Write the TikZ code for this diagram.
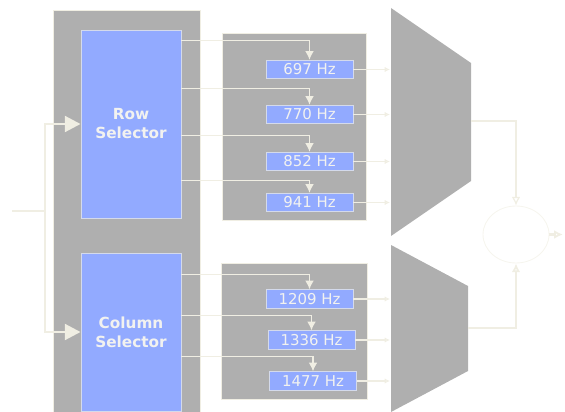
\documentclass[tikz,border=0pt]{standalone}
\usepackage{fontspec}
\setmainfont{DejaVu Sans}
\usetikzlibrary{positioning,arrows.meta,calc,shapes.geometric}
\definecolor{cPanel}{HTML}{AFAFAF}
\definecolor{cBlue}{HTML}{92AAFF}
\definecolor{cWire}{HTML}{F0EEE3}
\definecolor{cFaint}{HTML}{F6F5EE}
\definecolor{cText}{HTML}{F2F2F0}
\tikzset{
  panel/.style={draw=cWire,fill=cPanel,line width=0.5pt,inner sep=0pt},
  selbox/.style={draw=cWire!70!cBlue,fill=cBlue,line width=0.5pt,inner sep=0pt,minimum width=2cm,
                 text width=2cm,align=center,text=cText,font=\fontsize{8.7}{10.8}\selectfont\bfseries},
  hzbox/.style={draw=cWire!70!cBlue,fill=cBlue,line width=0.5pt,inner sep=0pt,minimum width=1.74cm,
                minimum height=0.37cm,text=cText,font=\fontsize{8.5}{10}\selectfont},
  wire/.style={draw=cWire,line width=0.7pt},
  feed/.style={wire,-{Latex[length=5pt,width=5pt,fill=cWire]}},
  bus/.style={draw=cWire,line width=1.6pt},
  muxin/.style={wire,line width=1pt,-{Latex[open,length=3pt,width=3pt]}}
}
\begin{document}
\begin{tikzpicture}[x=0.02cm,y=-0.02cm]
    \useasboundingbox (0,0) rectangle (565,412);
    % grey backing panels
    \node[panel,minimum width=2.94cm,minimum height=8.04cm] (selpanel) at (126.5,211) {};
    \node[panel,minimum width=2.88cm,minimum height=3.74cm] (rowpanel) at (294,126.5) {};
    \node[panel,minimum width=2.92cm,minimum height=2.72cm] (colpanel) at (294,331) {};
    % selectors
    \node[selbox,minimum height=3.76cm] (rowsel) at (131,124) {Row\\Selector};
    \node[selbox,minimum height=3.16cm] (colsel) at (131,332) {Column\\Selector};
    % tone boxes
    \node[hzbox] (f697) at (309.5,69.5) {697 Hz};
    \node[hzbox] (f770) at (309.5,114.5) {770 Hz};
    \node[hzbox] (f852) at (309.5,161.5) {852 Hz};
    \node[hzbox] (f941) at (309.5,202.5) {941 Hz};
    \node[hzbox] (f1209) at (309.5,299) {1209 Hz};
    \node[hzbox] (f1336) at (311.5,340) {1336 Hz};
    \node[hzbox] (f1477) at (313,381) {1477 Hz};
    % adders
    \fill[cPanel] (391,8) -- (471,63) -- (471,181) -- (391,236) -- cycle;
    \fill[cPanel] (391,245) -- (468,286) -- (468,371) -- (391,412) -- cycle;
    \node[draw=cFaint,ellipse,line width=0.5pt,minimum width=1.32cm,minimum height=1.14cm,inner sep=0pt] (sum) at (516,234.5) {};
    \coordinate (inp) at (12,211);
    \coordinate (fork) at (45,211);
    \coordinate (rowout) at (471,121);
    \coordinate (colout) at (468,328);
    \coordinate (sumout) at (563,234.5);
    % input bus
    \draw[bus] (inp) -- (fork);
    \draw[bus,-{Triangle[length=9pt,width=9pt,fill=cWire]}] (fork) |- (rowsel.west);
    \draw[bus,-{Triangle[length=9pt,width=9pt,fill=cWire]}] (fork) |- (colsel.west);
    % selector lines
    \draw[feed] ([yshift=-0.22cm]rowsel.north east) -| (f697.north);
    \draw[feed] ([yshift=-1.18cm]rowsel.north east) -| (f770.north);
    \draw[feed] ([yshift=-2.12cm]rowsel.north east) -| (f852.north);
    \draw[feed] ([yshift=-3.02cm]rowsel.north east) -| (f941.north);
    \draw[feed] ([yshift=-0.44cm]colsel.north east) -| (f1209.north);
    \draw[feed] ([yshift=-1.26cm]colsel.north east) -| (f1336.north);
    \draw[feed] ([yshift=-2.08cm]colsel.north east) -| (f1477.north);
    % into the adders
    \draw[muxin] (f697.east) -- (f697.east -| 390,0);
    \draw[muxin] (f770.east) -- (f770.east -| 390,0);
    \draw[muxin] (f852.east) -- (f852.east -| 390,0);
    \draw[muxin] (f941.east) -- (f941.east -| 390,0);
    \draw[muxin] (f1209.east) -- (f1209.east -| 390,0);
    \draw[muxin] (f1336.east) -- (f1336.east -| 390,0);
    \draw[muxin] (f1477.east) -- (f1477.east -| 390,0);
    % out to the sum
    \draw[wire,-{Latex[open,length=5pt,width=5pt]}] (rowout) -| (sum.north);
    \draw[wire,line width=1pt,-{Latex[open,length=5pt,width=5pt]}] (colout) -| (sum.south);
    \draw[wire,line width=1.2pt,-{Latex[open,length=5pt,width=5pt]}] (sum.east) -- (sumout);
  \end{tikzpicture}
\end{document}
